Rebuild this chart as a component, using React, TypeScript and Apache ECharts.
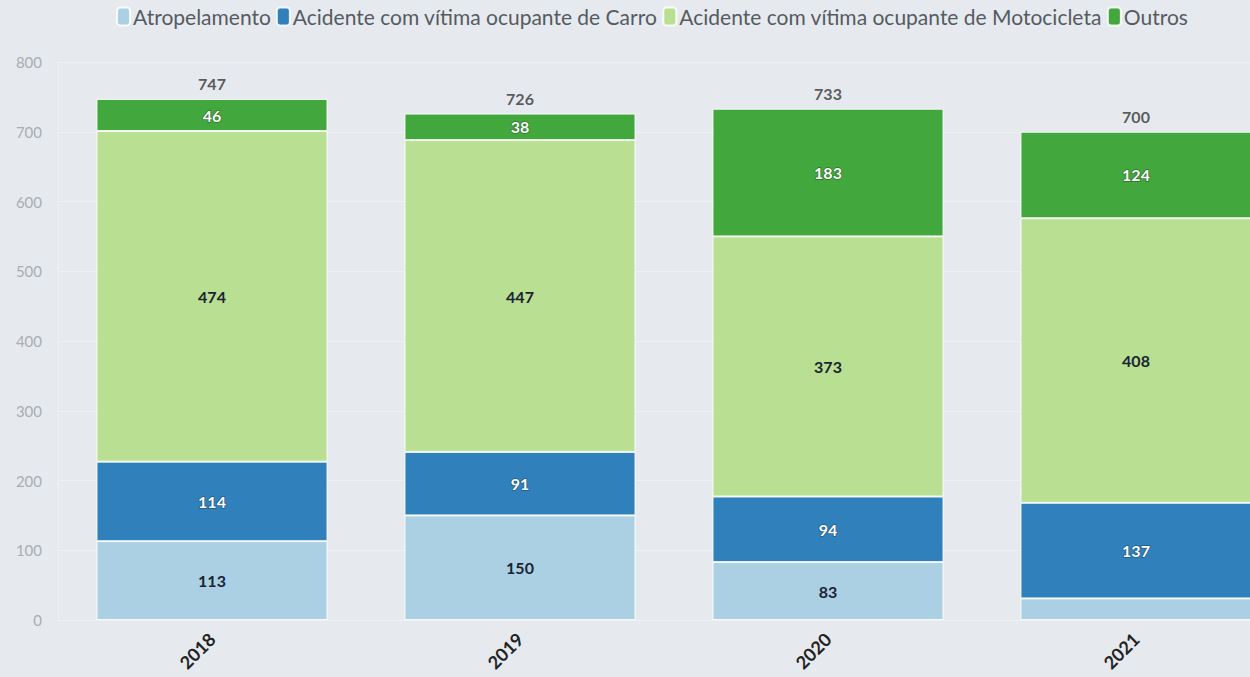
import React, { useEffect, useRef } from "react";
import * as echarts from "echarts";

const categories = ["2018", "2019", "2020", "2021"];
const atropelamento = [113, 150, 83, 31];
const carro = [114, 91, 94, 137];
const motocicleta = [474, 447, 373, 408];
const outros = [46, 38, 183, 124];
const totals = [747, 726, 733, 700];
const hiddenLabels = { atropelamento: [3] };

const seriesNames = [
  "Atropelamento",
  "Acidente com vítima ocupante de Carro",
  "Acidente com vítima ocupante de Motocicleta",
  "Outros",
];
const colors = ["#abd0e4", "#3080bb", "#b9df92", "#42a73c"];
const FONT = "Lato, 'Noto Sans', sans-serif";

export default function App() {
  const ref = useRef<HTMLDivElement>(null);
  useEffect(() => {
    if (!ref.current) return;
    const chart = echarts.init(ref.current, undefined, { renderer: "svg" });
    const darkLabel = {
      show: true,
      color: "#1a2433",
      fontWeight: "bold" as const,
      fontSize: 16,
      fontFamily: FONT,
    };
    const lightLabel = {
      show: true,
      color: "#ffffff",
      fontWeight: "bold" as const,
      fontSize: 16,
      fontFamily: FONT,
      textBorderColor: "rgba(0,0,0,0.35)",
      textBorderWidth: 1.5,
    };
    const seriesData = [atropelamento, carro, motocicleta, outros];
    const labels = [darkLabel, lightLabel, darkLabel, lightLabel];
    const bars = seriesData.map((arr, i) => ({
      name: seriesNames[i],
      type: "bar" as const,
      stack: "total",
      barCategoryGap: "25%",
      itemStyle: {
        color: colors[i],
        borderColor: "rgba(255,255,255,0.85)",
        borderWidth: 1,
      },
      label: labels[i],
      data: arr.map((v, j) =>
        i === 0 && hiddenLabels.atropelamento.includes(j)
          ? { value: v, label: { show: false } }
          : v
      ),
    }));
    chart.setOption({
      animation: false,
      backgroundColor: "#e6eaee",
      textStyle: { fontFamily: FONT },
      legend: {
        data: seriesNames,
        top: 1,
        left: "center",
        icon: "roundRect",
        itemWidth: 13,
        itemHeight: 18,
        itemGap: 5,
        textStyle: { fontSize: 21, color: "#555b62", fontFamily: FONT, padding: [0, 0, 0, -2] },
      },
      grid: { left: 58, right: 14, top: 62, bottom: 57, containLabel: false },
      xAxis: {
        type: "category",
        data: categories,
        axisTick: { show: false },
        axisLine: { lineStyle: { color: "#eef1f4" } },
        axisLabel: {
          rotate: 45,
          color: "#222",
          fontWeight: "bold",
          fontSize: 18,
          margin: 16,
          fontFamily: FONT,
        },
      },
      yAxis: {
        type: "value",
        min: 0,
        max: 800,
        interval: 100,
        axisLine: { show: true, lineStyle: { color: "#eef1f4" } },
        axisLabel: { color: "#a9adb2", fontSize: 15, margin: 16, fontFamily: FONT },
        splitLine: { lineStyle: { color: "#eef1f4", width: 1 } },
      },
      series: [
        ...bars,
        {
          name: "Total",
          type: "scatter",
          symbolSize: 0,
          data: totals,
          label: {
            show: true,
            position: "top",
            distance: 7,
            color: "#333",
            fontWeight: "bold",
            fontSize: 16,
            fontFamily: FONT,
          },
          z: 10,
        },
      ],
    });
    return () => chart.dispose();
  }, []);
  return (
    <div
      style={{
        position: "fixed",
        left: 0,
        top: 0,
        width: 1250,
        height: 677,
        overflow: "hidden",
        background: "#e6eaee",
      }}
    >
      <div ref={ref} style={{ width: 1304, height: 677 }} />
    </div>
  );
}
